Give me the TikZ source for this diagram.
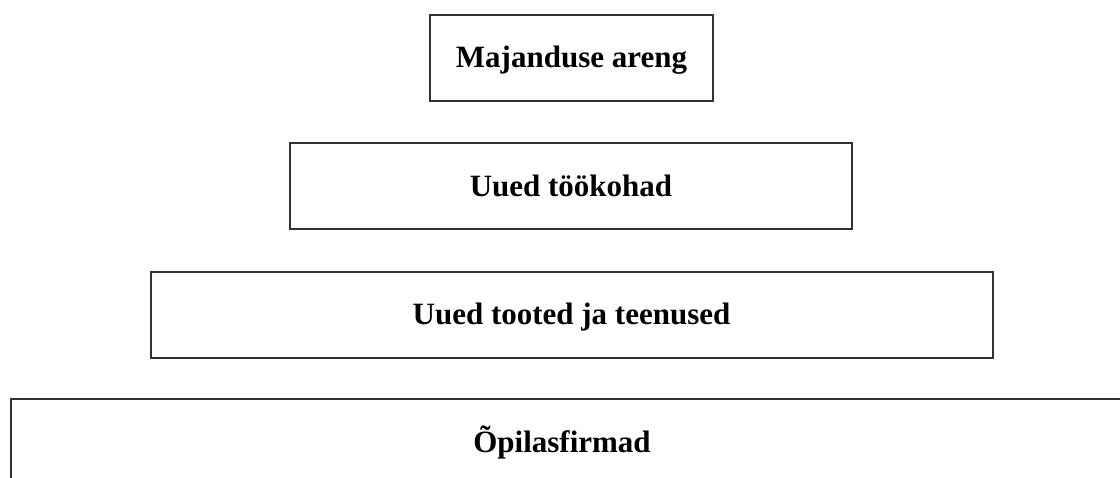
\documentclass[tikz,border=0pt]{standalone}
\usepackage{fontspec}
\setmainfont{Liberation Serif}
\tikzstyle{level}=[draw=black!80, line width=2pt, inner sep=0pt, text height=20.5pt, text depth=0pt, font=\bfseries\fontsize{31}{36}\selectfont, minimum height=86pt]

\begin{document}
\begin{tikzpicture}[x=1pt, y=-1pt]
    \clip (0,0) rectangle (1120,477);
% Levels, top to bottom
    \node[level, minimum width=283pt] (areng) at (571.5,57.5) {Majanduse areng};
    \node[level, minimum width=562pt] (tookohad) at (571,186) {Uued töökohad};
    \node[level, minimum width=842pt] (tooted) at (571.5,314.5) {Uued tooted ja teenused};
    \node[level, minimum width=1120pt] (firmad) at (571,442) {};
    \node[font=\bfseries\fontsize{31}{36}\selectfont, inner sep=0pt, text height=20.5pt, text depth=0pt] (firmadtext) at (562,442) {Õpilasfirmad};
\end{tikzpicture}
\end{document}
